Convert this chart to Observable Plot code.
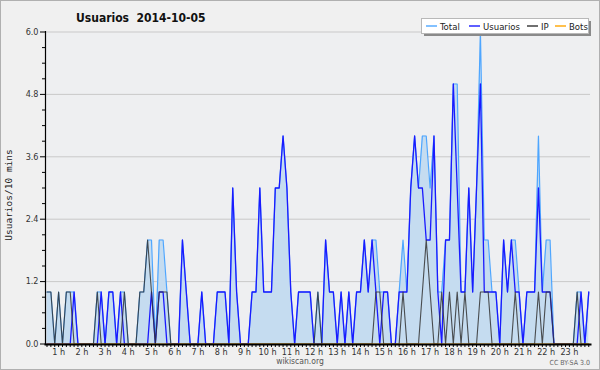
<!DOCTYPE html>
<html><head><meta charset="utf-8">
<script src="https://cdn.jsdelivr.net/npm/d3@7"></script>
<script src="https://cdn.jsdelivr.net/npm/@observablehq/plot@0.6"></script>
<style>
html,body{margin:0;padding:0;background:#f0f0f0;}
#chart{width:600px;height:370px;}
</style></head><body><div id="chart"></div>
<script>
// ---- data (10-minute bins, 2014-10-05) ----
const total = [
  1,1,0,1,0,1,1,1,0,0,0,0,
  0,1,1,0,1,1,0,1,1,0,0,0,
  1,1,2,2,0,2,2,1,0,0,0,2,
  1,0,0,0,1,0,0,0,1,1,1,0,
  3,1,0,0,0,1,1,3,1,1,1,3,
  3,4,3,1,0,1,1,1,1,0,1,0,
  2,1,1,0,1,0,1,0,1,1,2,1,
  2,2,1,1,1,0,0,1,2,1,3,4,
  3,4,4,3,4,1,1,2,2,5,5,1,
  1,3,1,3,6,2,2,1,1,0,2,1,
  2,2,1,0,1,1,1,4,1,2,2,0,
  0,0,0,0,0,1,1,0,1
];
const usuarios = [
  0,0,0,0,0,0,0,1,0,0,0,0,
  0,0,1,0,1,1,0,1,0,0,0,0,
  0,0,0,1,0,1,1,0,0,0,0,2,
  1,0,0,0,1,0,0,0,1,1,1,0,
  3,1,0,0,0,1,1,3,1,1,1,3,
  3,4,3,1,0,1,1,1,1,0,0,0,
  2,1,1,0,1,0,1,0,1,1,2,1,
  2,1,0,1,1,0,0,1,1,1,3,4,
  3,3,2,2,4,1,0,2,2,5,3,1,
  1,3,1,3,5,1,1,1,1,0,2,1,
  2,1,1,0,1,1,1,3,1,1,1,0,
  0,0,0,0,0,0,1,0,1
];
const ip = [
  1,1,0,1,0,1,1,0,0,0,0,0,
  0,1,0,0,0,0,0,0,1,0,0,0,
  1,1,2,1,0,1,1,1,0,0,0,0,
  0,0,0,0,0,0,0,0,0,0,0,0,
  0,0,0,0,0,0,0,0,0,0,0,0,
  0,0,0,0,0,0,0,0,0,0,1,0,
  0,0,0,0,0,0,0,0,0,0,0,0,
  0,1,1,0,0,0,0,0,1,0,0,0,
  0,1,2,1,0,0,1,0,1,0,1,0,
  1,0,0,0,1,1,1,0,0,0,0,0,
  0,1,0,0,0,0,0,1,0,1,1,0,
  0,0,0,0,0,1,0,0,0
];
const bots = [
  0,0,0,0,0,0,0,0,0,0,0,0,
  0,0,0,0,0,0,0,0,0,0,0,0,
  0,0,0,0,0,0,0,0,0,0,0,0,
  0,0,0,0,0,0,0,0,0,0,0,0,
  0,0,0,0,0,0,0,0,0,0,0,0,
  0,0,0,0,0,0,0,0,0,0,0,0,
  0,0,0,0,0,0,0,0,0,0,0,0,
  0,0,0,0,0,0,0,0,0,0,0,0,
  0,0,0,0,0,0,0,0,0,0,0,0,
  0,0,0,0,0,0,0,0,0,0,0,0,
  0,0,0,0,0,0,0,0,0,0,0,0,
  0,0,0,0,0,0,0,0,0
];
const hourLabels = ["1 h","2 h","3 h","4 h","5 h","6 h","7 h","8 h","9 h","10 h","11 h","12 h",
  "13 h","14 h","15 h","16 h","17 h","18 h","19 h","20 h","21 h","22 h","23 h"];
const yTicks = [0, 1.2, 2.4, 3.6, 4.8, 6.0];
const yMinorTicks = [0.3,0.6,0.9,1.5,1.8,2.1,2.7,3.0,3.3,3.9,4.2,4.5,5.1,5.4,5.7];
const seriesNames = ["Total", "Usuarios", "IP", "Bots"];
const seriesColors = ["#4ea6ff", "#1a1aff", "#333333", "#ffa500"];
const chartTitle = "Usuarios  2014-10-05";
const yTitle = "Usuarios/10 mins";
const footer = "wikiscan.org";
const license = "CC BY-SA 3.0";

// ---- build ----
const FONT = "'DejaVu Sans Condensed', 'DejaVu Sans', sans-serif";
const rows = total.map((t, i) => ({i, total: t, usuarios: usuarios[i], ip: ip[i], bots: bots[i]}));
const hourPos = hourLabels.map((_, k) => 6 * (k + 1) - 3);

const plot = Plot.plot({
  width: 600, height: 370,
  marginLeft: 45, marginRight: 10, marginTop: 31, marginBottom: 26,
  style: {background: "#f0f0f0", fontFamily: FONT, fontSize: "9px", color: "#000"},
  x: {domain: [0, 140.5], range: [46.5, 590.2]},
  y: {domain: [0, 6], range: [343.5, 31.5]},
  marks: [
    Plot.frame({fill: "#eeeff1", stroke: null}),
    Plot.ruleY(yTicks.slice(1), {stroke: "#c9c9c9"}),
    Plot.areaY(rows, {x: "i", y: "total", fill: "#c5dcf0"}),
    Plot.lineY(rows, {x: "i", y: "total", stroke: seriesColors[0], strokeWidth: 1.2}),
    Plot.lineY(rows, {x: "i", y: "usuarios", stroke: seriesColors[1], strokeWidth: 1.3}),
    Plot.lineY(rows, {x: "i", y: "ip", stroke: seriesColors[2], strokeWidth: 1.1, strokeOpacity: 0.85}),
    Plot.lineY(rows, {x: "i", y: "bots", stroke: seriesColors[3], strokeWidth: 1.1}),
    Plot.axisY(yMinorTicks, {anchor: "left", tickSize: 3, tickFormat: () => "", label: null, stroke: "#000"}),
    Plot.axisY(yTicks, {anchor: "left", tickSize: 5, tickPadding: 2, tickFormat: d3.format(".1f"),
      label: null, stroke: "#000", fill: "#333", fontSize: 9}),
    Plot.axisX(rows.map(d => d.i), {anchor: "bottom", tickSize: 3, tickFormat: () => "", label: null, stroke: "#000"}),
    Plot.axisX(hourPos, {anchor: "bottom", tickSize: 0, tickPadding: 4,
      tickFormat: d => hourLabels[hourPos.indexOf(d)], label: null, fill: "#333", fontSize: 9}),
    Plot.frame({anchor: "left", stroke: "#000", strokeWidth: 1.2}),
    Plot.frame({anchor: "bottom", stroke: "#000", strokeWidth: 2})
  ]
});

const svg = d3.select(plot);
svg.append("rect").attr("x", 0.5).attr("y", 0.5).attr("width", 599).attr("height", 369)
  .attr("fill", "none").attr("stroke", "#b0b0b0");
svg.append("text").attr("x", 76).attr("y", 22).attr("text-anchor", "start").text(chartTitle)
  .attr("font-family", FONT).attr("font-weight", "bold").attr("font-size", 12)
  .attr("fill", "#111").style("white-space", "pre");
svg.append("text").attr("transform", "translate(12,195) rotate(-90)").attr("text-anchor", "middle")
  .attr("font-family", "'DejaVu Sans Mono', monospace").attr("font-size", 9.5).attr("fill", "#222")
  .text(yTitle);
svg.append("text").attr("x", 300).attr("y", 364).attr("text-anchor", "middle")
  .attr("font-family", FONT).attr("font-size", 8.5).attr("fill", "#555").text(footer);
svg.append("text").attr("x", 590).attr("y", 365).attr("text-anchor", "end")
  .attr("font-family", FONT).attr("font-size", 7).attr("fill", "#666").text(license);

// legend
const lg = svg.append("g");
lg.append("rect").attr("x", 424).attr("y", 21).attr("width", 167).attr("height", 15).attr("fill", "#8a8a8a");
lg.append("rect").attr("x", 421.5).attr("y", 18.5).attr("width", 167).attr("height", 15)
  .attr("fill", "#fff").attr("stroke", "#b8b8b8");
const legX = [426, 469, 527, 555];
seriesNames.forEach((name, k) => {
  lg.append("line").attr("x1", legX[k]).attr("x2", legX[k] + 11).attr("y1", 26).attr("y2", 26)
    .attr("stroke", seriesColors[k]).attr("stroke-width", 1.4);
  lg.append("text").attr("x", legX[k] + 14).attr("y", 30).attr("text-anchor", "start")
    .attr("font-family", FONT).attr("font-size", 9.5).attr("fill", "#222").text(name);
});

document.getElementById("chart").appendChild(plot);
</script></body></html>
